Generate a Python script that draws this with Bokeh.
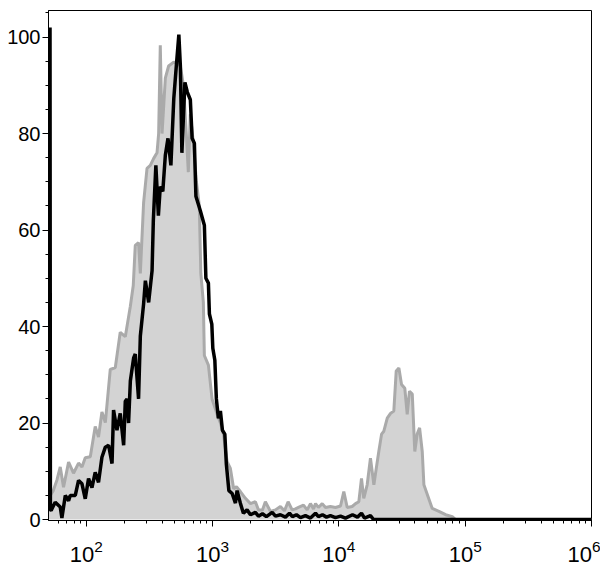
import numpy as np
from bokeh.plotting import figure
from bokeh.models import Range1d, SingleIntervalTicker, ColumnDataSource
from bokeh.embed import file_html
from bokeh.resources import INLINE

# log10 of fluorescence intensity (bin positions) and % of max counts
black_log = [1.713, 1.716, 1.722, 1.754, 1.794, 1.807, 1.834, 1.860, 1.873, 1.913,
             1.939, 1.966, 1.992, 2.018, 2.045, 2.071, 2.097, 2.124, 2.151, 2.177,
             2.204, 2.216, 2.243, 2.269, 2.296, 2.309, 2.323, 2.335, 2.349, 2.375,
             2.388, 2.414, 2.428, 2.454, 2.468, 2.494, 2.521, 2.531, 2.551, 2.571,
             2.586, 2.606, 2.626, 2.647, 2.670, 2.693, 2.713, 2.733, 2.745, 2.757,
             2.781, 2.800, 2.824, 2.838, 2.856, 2.868, 2.903, 2.935, 2.947, 2.967,
             2.975, 2.994, 3.002, 3.018, 3.030, 3.046, 3.062, 3.078, 3.097, 3.109,
             3.129, 3.155, 3.181, 3.194, 3.220, 3.244, 3.273, 3.300, 3.339, 3.363,
             3.395, 3.426, 3.472, 3.498, 3.537, 3.577, 3.609, 3.632, 3.664, 3.696,
             3.735, 3.775, 3.815, 3.838, 3.870, 3.902, 3.933, 3.973, 4.013, 4.052,
             4.108, 4.147, 4.179, 4.203, 4.250, 4.274, 6.000]
black_val = [102.0, 2.0, 1.9, 3.6, 2.6, 0.3, 5.0, 3.9, 5.0, 5.0,
             8.1, 7.4, 4.3, 8.5, 6.6, 9.8, 7.7, 12.9, 15.0, 15.4,
             11.6, 22.7, 18.5, 22.0, 15.4, 24.5, 25.0, 20.0, 28.7, 33.5,
             34.3, 25.0, 38.0, 44.7, 49.5, 45.0, 51.6, 62.0, 73.4, 63.0,
             69.0, 68.0, 75.5, 79.0, 73.4, 87.3, 94.0, 100.5, 94.0, 76.0,
             90.6, 88.6, 87.0, 79.0, 78.0, 67.0, 64.0, 61.0, 50.0, 49.0,
             42.6, 40.5, 35.5, 33.0, 25.0, 21.0, 22.5, 18.5, 17.7, 11.5,
             6.0, 5.4, 3.4, 6.0, 3.4, 1.3, 2.0, 1.0, 1.5, 0.7,
             1.2, 0.6, 1.5, 0.7, 1.0, 0.5, 1.3, 0.6, 1.0, 0.4,
             0.8, 0.3, 1.3, 0.6, 1.0, 0.5, 0.8, 0.4, 0.7, 0.3,
             1.0, 0.5, 1.3, 0.3, 0.8, 0.0, 0.0]

gray_log = [1.701, 1.715, 1.739, 1.768, 1.794, 1.820, 1.860, 1.899, 1.939, 1.966,
            1.992, 2.032, 2.071, 2.097, 2.124, 2.151, 2.190, 2.230, 2.269, 2.309,
            2.349, 2.372, 2.388, 2.414, 2.428, 2.454, 2.481, 2.507, 2.533, 2.560,
            2.573, 2.586, 2.600, 2.626, 2.652, 2.692, 2.721, 2.745, 2.769, 2.792,
            2.808, 2.824, 2.848, 2.872, 2.895, 2.907, 2.927, 2.935, 2.967, 2.996,
            3.036, 3.062, 3.086, 3.115, 3.141, 3.167, 3.189, 3.220, 3.260, 3.300,
            3.339, 3.363, 3.395, 3.418, 3.458, 3.498, 3.537, 3.569, 3.598, 3.630,
            3.656, 3.680, 3.720, 3.749, 3.775, 3.799, 3.815, 3.838, 3.868, 3.894,
            3.933, 3.973, 4.013, 4.039, 4.066, 4.105, 4.132, 4.158, 4.179, 4.197,
            4.224, 4.250, 4.277, 4.296, 4.316, 4.338, 4.356, 4.383, 4.409, 4.435,
            4.454, 4.475, 4.496, 4.522, 4.541, 4.559, 4.581, 4.601, 4.620, 4.639,
            4.660, 4.673, 4.700, 4.739, 4.792, 4.845, 4.898, 4.924, 6.000]
gray_val = [4.0, 5.0, 6.0, 8.2, 10.9, 6.7, 11.9, 9.6, 11.7, 10.9,
            12.8, 13.0, 19.3, 17.1, 22.3, 20.1, 31.1, 31.5, 38.8, 37.9,
            44.2, 48.5, 56.8, 57.4, 51.0, 65.7, 72.8, 73.4, 74.8, 76.0,
            80.0, 98.3, 80.0, 91.5, 94.0, 94.8, 94.5, 94.0, 90.0, 80.0,
            72.0, 84.0, 78.0, 70.0, 65.0, 51.0, 45.0, 34.0, 32.0, 25.0,
            21.8, 20.0, 17.7, 12.0, 10.6, 6.4, 6.8, 5.8, 4.4, 3.3,
            3.7, 2.0, 2.0, 3.7, 1.7, 2.0, 2.7, 1.8, 3.7, 2.0,
            2.2, 2.5, 3.0, 2.0, 3.3, 2.2, 3.3, 2.5, 3.3, 2.5,
            2.7, 2.5, 2.8, 5.8, 2.5, 2.7, 3.3, 3.7, 8.5, 4.4,
            7.2, 12.7, 7.2, 10.6, 14.1, 17.7, 18.3, 21.0, 22.0, 22.5,
            30.8, 31.4, 28.0, 27.2, 21.8, 26.6, 26.0, 14.1, 17.7, 19.0,
            14.1, 7.2, 5.2, 2.3, 1.7, 1.0, 0.6, 0.0, 0.0]

y_ticks_interval = 20

FONT = "Liberation Sans"

gray_src = ColumnDataSource(dict(x=10 ** np.array(gray_log), y=gray_val))
black_src = ColumnDataSource(dict(x=10 ** np.array(black_log), y=black_val))

p = figure(frame_width=543, frame_height=510, x_axis_type="log",
           x_range=Range1d(10 ** 1.701, 1e6), y_range=Range1d(-0.2, 105.5),
           output_backend="svg", toolbar_location=None,
           min_border_left=48, min_border_right=9, min_border_top=10, min_border_bottom=54)

p.varea(x="x", y1=0, y2="y", source=gray_src, fill_color="#d3d3d3")
p.line(x="x", y="y", source=gray_src, line_color="#aaaaaa", line_width=3)
p.line(x="x", y="y", source=black_src, line_color="black", line_width=3.5)

p.grid.visible = False
p.outline_line_color = "black"
p.outline_line_width = 1
p.background_fill_color = "white"
p.border_fill_color = "white"

p.yaxis.ticker = SingleIntervalTicker(interval=y_ticks_interval, num_minor_ticks=4)
for ax in (p.xaxis[0], p.yaxis[0]):
    ax.axis_line_color = "black"
    ax.axis_line_width = 1
    ax.major_tick_line_color = "black"
    ax.minor_tick_line_color = "black"
    ax.major_tick_in = 0
    ax.minor_tick_in = 0
    ax.major_label_text_font = FONT
    ax.major_label_text_color = "black"

p.yaxis.major_tick_out = 6
p.yaxis.minor_tick_out = 3
p.yaxis.major_label_standoff = 2
p.yaxis.major_label_text_font_size = "20px"

p.xaxis.major_tick_out = 6
p.xaxis.minor_tick_out = 3
p.xaxis.major_label_standoff = 13
p.xaxis.major_label_text_font_size = "22px"

open("out.html", "w").write(file_html(p, INLINE))
